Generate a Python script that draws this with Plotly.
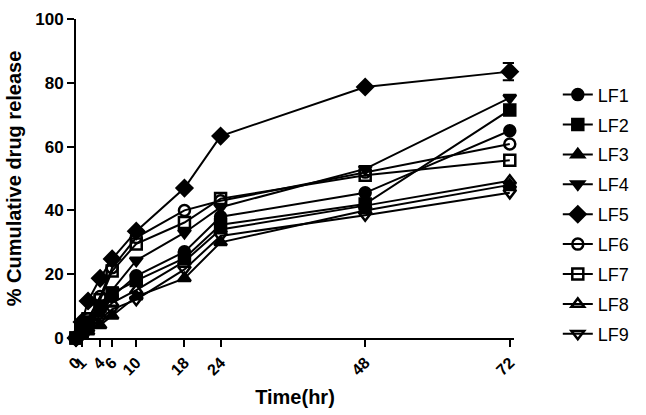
import plotly.graph_objects as go

time_hr = [0, 1, 2, 4, 6, 10, 18, 24, 48, 72]
tick_vals = [0, 1, 4, 6, 10, 18, 24, 48, 72]
tick_text = ["0", "1", "4", "6", "10", "18", "24", "48", "72"]

LF1 = [0, 2, 4, 9, 13, 19.5, 27, 38, 45.5, 65]
LF2 = [0, 2.5, 5, 10, 14, 18, 25, 35.5, 42, 71.5]
LF3 = [0, 1, 2, 4, 7, 13, 18.7, 30, 40, 48]
LF4 = [0, 2, 4, 10, 15, 24.3, 33, 41, 53, 75.3]
LF5 = [0, 5, 11.6, 18.7, 24.8, 33.5, 47, 63.3, 78.7, 83.5]
LF6 = [0, 3, 6, 13, 22, 31.5, 40, 43, 52, 60.8]
LF7 = [0, 3, 6, 12, 21, 29.5, 36.2, 43.7, 51, 55.7]
LF8 = [0, 1.5, 3, 7, 11, 15, 24, 34, 41.5, 49.3]
LF9 = [0, 1, 2.5, 6, 9, 12, 21.5, 32, 38.5, 45.5]
LF5_err = [0, 0, 0, 0, 0, 0, 0, 0, 0, 2.7]

series = [
    ("LF1", LF1, "circle"),
    ("LF2", LF2, "square"),
    ("LF3", LF3, "triangle-up"),
    ("LF4", LF4, "triangle-down"),
    ("LF5", LF5, "diamond"),
    ("LF6", LF6, "circle-open"),
    ("LF7", LF7, "square-open"),
    ("LF8", LF8, "triangle-up-open"),
    ("LF9", LF9, "triangle-down-open"),
]

FONT = "Liberation Sans, Arial, sans-serif"

fig = go.Figure()
for name, vals, sym in series:
    kw = {}
    if name == "LF5":
        kw["error_y"] = dict(type="data", array=LF5_err, visible=True,
                             color="black", thickness=2, width=7)
    size = 12 if sym == "diamond" else 11
    fig.add_trace(go.Scatter(
        x=time_hr, y=vals, name=name, mode="lines+markers",
        line=dict(color="black", width=2),
        marker=dict(symbol=sym, size=size, color="black",
                    line=dict(color="black", width=2.5)),
        legendgroup=name, cliponaxis=False, **kw))

fig.update_layout(
    width=646, height=415,
    margin=dict(l=76, r=132, t=10, b=77),
    plot_bgcolor="white", paper_bgcolor="white",
    font=dict(family=FONT, color="black"),
    showlegend=True,
    legend=dict(x=1.1, xanchor="left", y=0.82, yanchor="top",
                font=dict(size=18, family=FONT, color="black"),
                tracegroupgap=3.5, bgcolor="rgba(0,0,0,0)"),
)
fig.update_xaxes(
    range=[0, 72.7], tickvals=tick_vals, ticktext=tick_text,
    tickangle=-45, ticks="outside", ticklen=7, tickwidth=2, tickcolor="black",
    showline=True, linecolor="black", linewidth=2, showgrid=False, zeroline=False,
    tickfont=dict(size=16, family=FONT, weight="bold"),
    title=dict(text="Time(hr)", font=dict(size=20, family=FONT, weight="bold"), standoff=12),
)
fig.update_yaxes(
    range=[0, 100], tickvals=[0, 20, 40, 60, 80, 100],
    ticks="outside", ticklen=7, tickwidth=2, tickcolor="black",
    showline=True, linecolor="black", linewidth=2, showgrid=False, zeroline=False,
    tickfont=dict(size=17, family=FONT, weight="bold"),
    title=dict(text="% Cumulative drug release", font=dict(size=20, family=FONT, weight="bold"), standoff=8),
)
fig.write_html("out.html", config={"displayModeBar": False},
               post_script="document.body.style.margin='0';")
